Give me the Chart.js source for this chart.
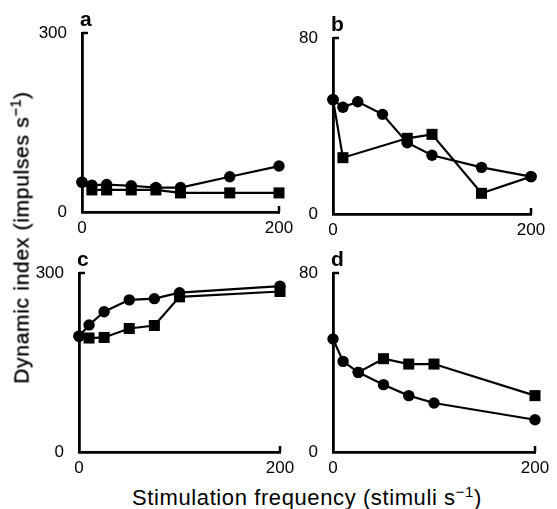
<!DOCTYPE html>
<html>
<head>
<meta charset="utf-8">
<script src="https://cdn.jsdelivr.net/npm/chart.js@4.4.1/dist/chart.umd.min.js"></script>
<style>
  html, body { margin: 0; padding: 0; background: #fff; }
  body { width: 557px; height: 509px; position: relative; overflow: hidden;
         font-family: "Liberation Sans", Arial, sans-serif; color: #000; }
  canvas { position: absolute; }
  .title { position: absolute; white-space: nowrap; text-align: center; color: #000; }
  .title sup { font-size: 0.68em; vertical-align: 0.55em; line-height: 0; }
  #xTitle { left: 107px; top: 487px; width: 400px; font-size: 22px; line-height: 22px; letter-spacing: 0.6px; }
  #yTitle { left: -139px; top: 227px; width: 320px; font-size: 21px; line-height: 21px; letter-spacing: 0.7px;
            transform: rotate(-90deg); transform-origin: 50% 50%; -webkit-text-stroke: 0.35px #000; }
</style>
</head>
<body>
<canvas id="chartA"></canvas>
<canvas id="chartB"></canvas>
<canvas id="chartC"></canvas>
<canvas id="chartD"></canvas>
<div class="title" id="yTitle">Dynamic index (impulses s<sup>−1</sup>)</div>
<div class="title" id="xTitle">Stimulation frequency (stimuli s<sup>−1</sup>)</div>
<script>
// stimulation frequencies (stimuli/s)
const freqLong = [0, 10, 25, 50, 75, 100, 150, 200];
const freqShort = [0, 10, 25, 50, 75, 100, 200];

// panel a (0-300)
const aCircle = [50, 45, 46, 44, 41, 41, 59, 77];
const aSquare = [50, 37, 37, 37, 37, 32, 32, 32];
// panel b (0-80)
const bCircle = [52, 48.5, 51, 45.3, 32.4, 26.7, 21.2, 17];
const bSquareFreq = [0, 10, 75, 100, 150, 200];
const bSquare = [52, 25.6, 34.4, 36.2, 9.4, 17];
// panel c (0-300)
const cCircle = [194, 213, 235, 255, 257, 267, 278];
const cSquare = [194, 191, 192, 207, 212, 260, 269];
// panel d (0-80)
const dCircle = [50.5, 40.5, 35.6, 30.1, 25.2, 21.9, 14.4];
const dSquareFreq = [25, 50, 75, 100, 200];
const dSquare = [35.6, 41.7, 39.3, 39.3, 25.2];

const FONT = "'Liberation Sans', Arial, sans-serif";
const Y_W = 50, X_H = 30, PAD_T = 25, PAD_R = 15;

function pts(xs, ys) {
  return xs.map((x, i) => ({ x: x, y: ys[i] }));
}

// square series share some points with the circle series; those show as circles
function series(xs, ys, style, sharedIdx) {
  const shared = sharedIdx || [];
  const styles = xs.map((_, i) => (style === 'rect' && !shared.includes(i)) ? 'rect' : 'circle');
  return {
    data: pts(xs, ys),
    borderColor: '#000',
    borderWidth: 2.2,
    backgroundColor: '#000',
    pointBackgroundColor: '#000',
    pointBorderWidth: 0,
    pointStyle: styles,
    pointRadius: styles.map(s => s === 'rect' ? 7.8 : 5.7),
    clip: false,
    tension: 0
  };
}

const panelExtras = {
  id: 'panelExtras',
  beforeDatasetsDraw(chart, args, opts) {
    const { ctx, chartArea, scales } = chart;
    const yTop = scales.y.getPixelForValue(scales.y.max);
    const xEnd = scales.x.getPixelForValue(scales.x.max);
    ctx.save();
    ctx.strokeStyle = '#000';
    ctx.lineWidth = 2.5;
    ctx.beginPath();
    ctx.moveTo(chartArea.left, yTop);
    ctx.lineTo(chartArea.left + 6, yTop);
    ctx.moveTo(xEnd, chartArea.bottom);
    ctx.lineTo(xEnd, chartArea.bottom - 6);
    ctx.stroke();
    ctx.font = 'bold 21px ' + FONT;
    ctx.fillStyle = '#000';
    ctx.textBaseline = 'alphabetic';
    ctx.fillText(opts.label, chartArea.left - 2, chartArea.top - 7);
    ctx.restore();
  }
};

function makePanel(id, label, box, yMax, datasets) {
  const [x0, x1, yTop, yBottom] = box;
  const canvas = document.getElementById(id);
  canvas.width = x1 - x0 + Y_W + PAD_R;
  canvas.height = yBottom - yTop + PAD_T + X_H;
  canvas.style.left = (x0 - Y_W) + 'px';
  canvas.style.top = (yTop - PAD_T) + 'px';

  const tickFont = { family: FONT, size: 17 };
  new Chart(canvas, {
    type: 'line',
    data: { datasets: datasets },
    options: {
      responsive: false,
      animation: false,
      layout: { padding: { top: PAD_T, right: PAD_R, left: 0, bottom: 0 } },
      plugins: {
        legend: { display: false },
        tooltip: { enabled: false },
        panelExtras: { label: label }
      },
      scales: {
        x: {
          type: 'linear', min: 0, max: 200,
          afterFit: s => { s.height = X_H; },
          grid: { display: false },
          border: { display: true, color: '#000', width: 2.8 },
          ticks: { stepSize: 200, padding: -2, color: '#000', font: tickFont, maxRotation: 0, autoSkip: false }
        },
        y: {
          type: 'linear', min: 0, max: yMax,
          afterFit: s => { s.width = Y_W; },
          grid: { display: false },
          border: { display: true, color: '#000', width: 2.8 },
          ticks: { stepSize: yMax, padding: 7, color: '#000', font: tickFont }
        }
      }
    },
    plugins: [panelExtras]
  });
}

makePanel('chartA', 'a', [82, 279, 33, 212], 300, [
  series(freqLong, aSquare, 'rect', [0]),
  series(freqLong, aCircle, 'circle')
]);
makePanel('chartB', 'b', [333, 531, 38, 214], 80, [
  series(bSquareFreq, bSquare, 'rect', [0, 5]),
  series(freqLong, bCircle, 'circle')
]);
makePanel('chartC', 'c', [79, 280, 273, 452], 300, [
  series(freqShort, cSquare, 'rect', [0]),
  series(freqShort, cCircle, 'circle')
]);
makePanel('chartD', 'd', [333, 535, 273, 452], 80, [
  series(dSquareFreq, dSquare, 'rect', [0]),
  series(freqShort, dCircle, 'circle')
]);
</script>
</body>
</html>
